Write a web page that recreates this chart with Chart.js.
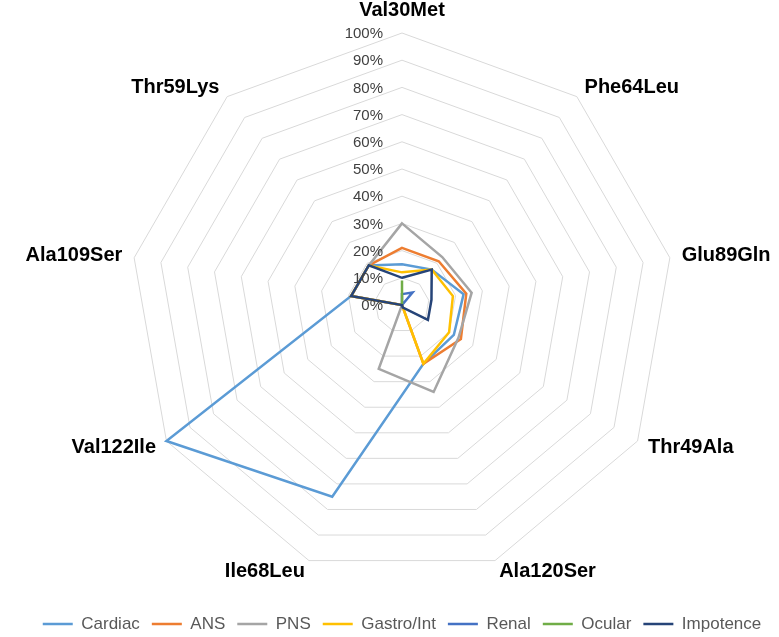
<!DOCTYPE html>
<html>
<head>
<meta charset="utf-8">
<script src="https://cdn.jsdelivr.net/npm/chart.js@4"></script>
<style>
  html, body { margin: 0; padding: 0; background: #fff; }
</style>
</head>
<body>
<canvas id="chart" width="779" height="637"></canvas>
<script>
// Axis categories (clockwise from top)
const mutations = ["Val30Met", "Phe64Leu", "Glu89Gln", "Thr49Ala", "Ala120Ser",
                   "Ile68Leu", "Val122Ile", "Ala109Ser", "Thr59Lys"];

// Percent of patients per symptom
const cardiac   = [15, 17, 23, 22, 23, 75, 100, 19, 19];
const ans       = [21, 21, 24, 25, 23, 0, 0, 19, 19];
const pns       = [30, 23, 26, 24, 34, 25, 0, 19, 19];
const gastro    = [12, 17, 19, 20, 23, 0, 0, 19, 19];
const renal     = [4, 6, 0, 0, 0, 0, 0, 0, 0];
const ocular    = [9, 0, 0, 0, 0, 0, 0, 0, 0];
const impotence = [10, 17, 11, 11, 1, 0, 0, 19, 19];

const tickValues = [0, 10, 20, 30, 40, 50, 60, 70, 80, 90, 100];

const seriesNames  = ["Cardiac", "ANS", "PNS", "Gastro/Int", "Renal", "Ocular", "Impotence"];
const seriesData   = [cardiac, ans, pns, gastro, renal, ocular, impotence];
const seriesColors = ["#5B9BD5", "#ED7D31", "#A5A5A5", "#FFC000", "#4472C4", "#70AD47", "#264478"];

// Excel-style labels: percents left of the vertical axis, categories outside the web
const labelPlugin = {
  id: "excelLabels",
  afterDatasetsDraw(chart) {
    const scale = chart.scales.r;
    const ctx = chart.ctx;
    ctx.save();
    ctx.textBaseline = "middle";

    ctx.font = '15px "Liberation Sans", Arial, sans-serif';
    ctx.fillStyle = "#404040";
    ctx.textAlign = "right";
    tickValues.forEach(v => {
      const y = scale.yCenter - scale.getDistanceFromCenterForValue(v);
      ctx.fillText(v + "%", scale.xCenter - 19, y + 1);
    });

    ctx.font = 'bold 20px "Liberation Sans", Arial, sans-serif';
    ctx.fillStyle = "#000";
    mutations.forEach((name, i) => {
      const gap = i === 0 ? 23 : 12;
      const pos = scale.getPointPosition(i, scale.drawingArea + gap);
      const dx = pos.x - scale.xCenter;
      ctx.textAlign = Math.abs(dx) < 1 ? "center" : (dx > 0 ? "left" : "right");
      ctx.fillText(name, pos.x, pos.y);
    });
    ctx.restore();
  }
};

const ctx = document.getElementById("chart").getContext("2d");
const radarChart = new Chart(ctx, {
  type: "radar",
  data: {
    labels: mutations,
    datasets: seriesNames.map((name, i) => ({
      label: name,
      data: seriesData[i],
      borderColor: seriesColors[i],
      backgroundColor: seriesColors[i],
      borderWidth: 2.5,
      fill: false,
      pointRadius: 0,
      tension: 0,
      order: seriesNames.length - i, // later series on top, like Excel
    })),
  },
  options: {
    responsive: false,
    animation: false,
    layout: { padding: { left: 25, right: 0, top: 33, bottom: -5.5 } },
    scales: {
      r: {
        min: 0,
        max: 100,
        ticks: { stepSize: 10, display: false },
        grid: { color: "#d9d9d9", lineWidth: 1 },
        angleLines: { display: false },
        pointLabels: { display: false },
      },
    },
    plugins: {
      tooltip: { enabled: false },
      legend: {
        position: "bottom",
        title: { display: true, text: " ", font: { size: 10 }, padding: { top: 0, bottom: 14.5 } },
        labels: {
          usePointStyle: true,
          pointStyle: "line",
          pointStyleWidth: 30,
          padding: 12,
          color: "#595959",
          font: { family: "Liberation Sans", size: 17 },
          sort: (a, b) => a.datasetIndex - b.datasetIndex,
        },
      },
    },
  },
  plugins: [labelPlugin],
});
</script>
</body>
</html>
